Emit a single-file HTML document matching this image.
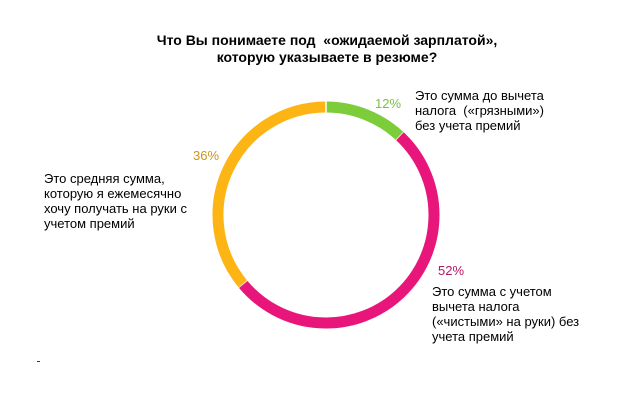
<!DOCTYPE html>
<html><head><meta charset="utf-8"><style>
body{margin:0;background:#fff;font-family:"Liberation Sans",sans-serif}
#c{position:relative;width:638px;height:404px;overflow:hidden}
.t{position:absolute;font-size:13px;line-height:15px;color:#000}
</style></head><body>
<div id="c">
<div class="t" style="left:8px;width:638px;top:32px;text-align:center;font-weight:bold;font-size:14px;line-height:17px">Что Вы понимаете под &nbsp;«ожидаемой зарплатой»,<br>которую указываете в резюме?</div>
<svg id="s" width="638" height="404" style="position:absolute;left:0;top:0"></svg>
<div class="t" style="left:375px;top:96px;color:#7ac143">12%</div>
<div class="t" style="left:415px;top:88px">Это сумма до вычета<br>налога &nbsp;(«грязными»)<br>без учета премий</div>
<div class="t" style="left:438px;top:263px;color:#b5175f">52%</div>
<div class="t" style="left:432px;top:284px">Это сумма с учетом<br>вычета налога<br>(«чистыми» на руки) без<br>учета премий</div>
<div class="t" style="left:193px;top:148px;color:#c8961e">36%</div>
<div class="t" style="left:44px;top:171px">Это средняя сумма,<br>которую я ежемесячно<br>хочу получать на руки с<br>учетом премий</div>
<div style="position:absolute;left:37px;top:361px;width:3px;height:1px;background:#333"></div>
</div>
<script>
const categories=["До вычета налога","С учетом вычета налога","Средняя сумма с премиями"];
const values=[12,52,36];
const colors=["#7dcc3a","#e8157a","#fdb515"];
const svg=document.getElementById('s');
const cx=326,cy=215,r=108,sw=11;
const total=values.reduce((a,b)=>a+b,0);
let a0=-Math.PI/2;
values.forEach((v,i)=>{
 const a1=a0+v/total*2*Math.PI;
 const p=document.createElementNS('http://www.w3.org/2000/svg','path');
 const x0=cx+r*Math.cos(a0),y0=cy+r*Math.sin(a0),x1=cx+r*Math.cos(a1),y1=cy+r*Math.sin(a1);
 p.setAttribute('d',`M${x0} ${y0}A${r} ${r} 0 ${a1-a0>Math.PI?1:0} 1 ${x1} ${y1}`);
 p.setAttribute('fill','none');p.setAttribute('stroke',colors[i]);p.setAttribute('stroke-width',sw);
 
 
 svg.appendChild(p);
 const l=document.createElementNS('http://www.w3.org/2000/svg','line');
 l.setAttribute('x1',cx+(r-7)*Math.cos(a1));l.setAttribute('y1',cy+(r-7)*Math.sin(a1));
 l.setAttribute('x2',cx+(r+7)*Math.cos(a1));l.setAttribute('y2',cy+(r+7)*Math.sin(a1));
 l.setAttribute('stroke','#fff');l.setAttribute('stroke-width','1.5');
 
 
 svg.appendChild(l);
 a0=a1;
});
</script>
</body></html>
